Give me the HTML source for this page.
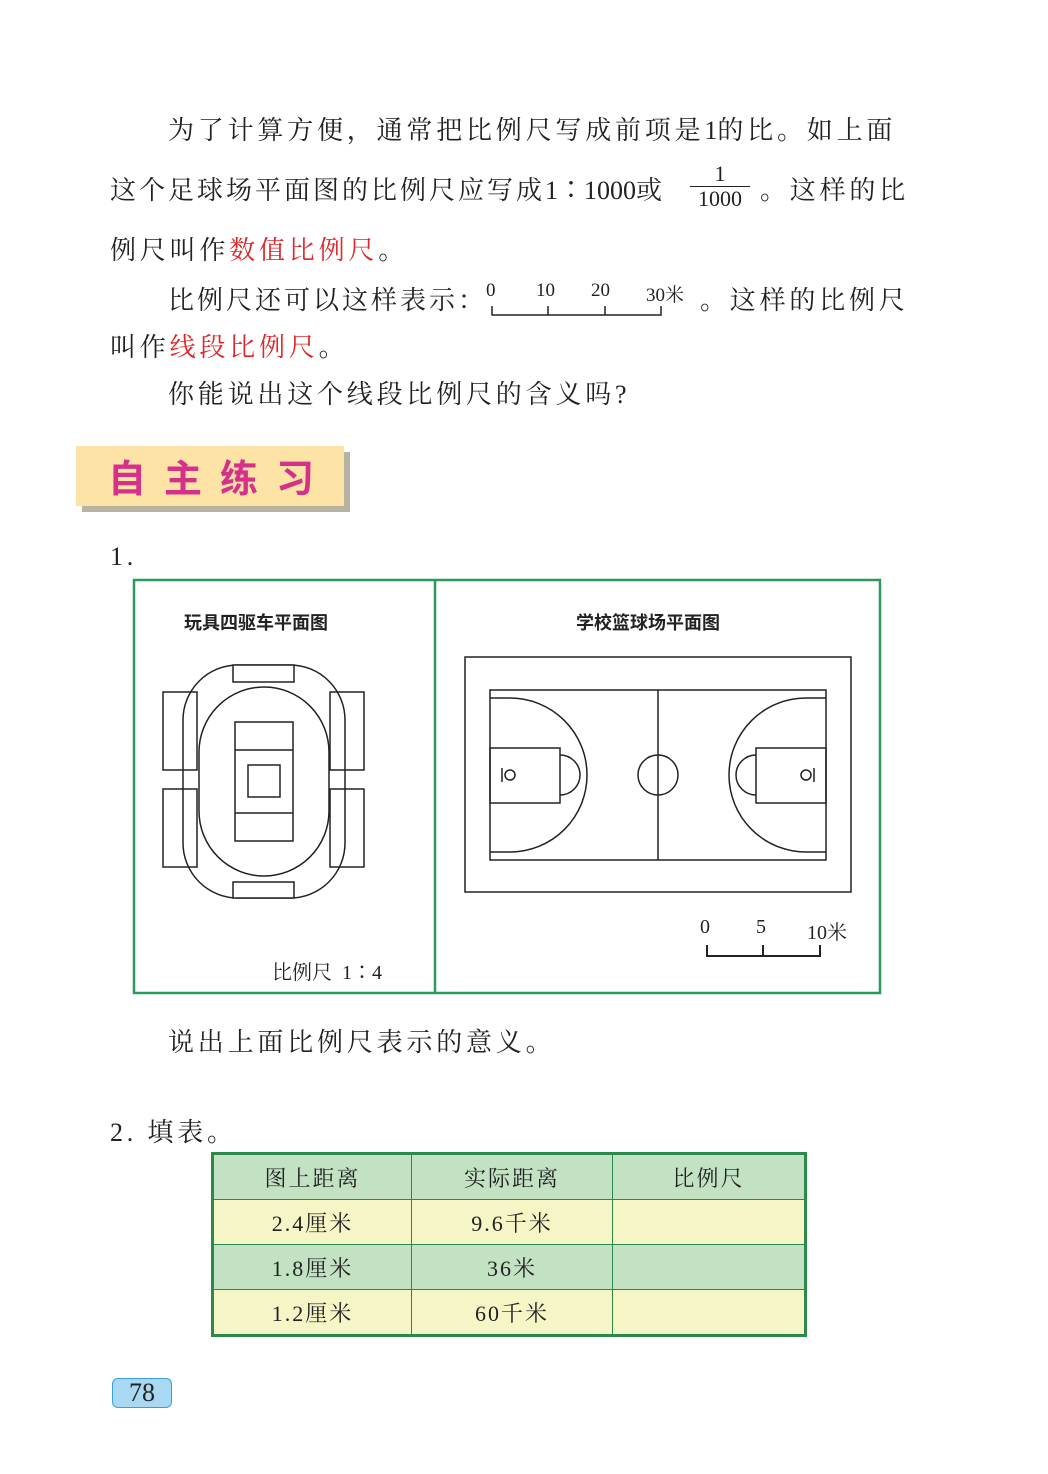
<!DOCTYPE html>
<html><head><meta charset="utf-8"><style>
body{margin:0;width:1048px;height:1474px;background:#fff;position:relative;overflow:hidden;font-family:"Liberation Serif","Noto Serif CJK SC",serif;color:#222}
.t{position:absolute;font-size:26px;white-space:nowrap;letter-spacing:3.8px}
.r{color:#e0262a}
.n{letter-spacing:0}
.s{position:absolute;font-size:20px;font-family:"Liberation Serif","Noto Serif CJK SC",serif}
table{position:absolute;left:211px;top:1152px;width:596px;border-collapse:collapse;border:3px solid #2b8a4a;font-size:22px;letter-spacing:2px}
td{border:1.5px solid #2b8a4a;height:44px;text-align:center;padding:0}
.g td{background:#c3e2c4}.y td{background:#f6f5c6}
</style></head><body>
<div class="t" style="left:168px;top:110px">为了计算方便，通常把比例尺写成前项是<span class="n">1</span>的比。如上面</div>
<div class="t" style="left:110px;top:170px;letter-spacing:3px">这个足球场平面图的比例尺应写成<span class="n">1∶1000</span>或</div>
<div style="position:absolute;left:690px;top:162px;width:60px;text-align:center;font-size:22px;line-height:24px">1<div style="border-top:1.5px solid #222"></div>1000</div>
<div class="t" style="left:760px;top:170px">。这样的比</div>
<div class="t" style="left:110px;top:230px">例尺叫作<span class="r">数值比例尺</span>。</div>
<div class="t" style="left:168px;top:280px;letter-spacing:3px">比例尺还可以这样表示：</div>
<div class="s" style="left:486px;top:280px;font-size:19px">0</div>
<div class="s" style="left:536px;top:280px;font-size:19px">10</div>
<div class="s" style="left:591px;top:280px;font-size:19px">20</div>
<div class="s" style="left:646px;top:280px;font-size:19px">30米</div>
<svg style="position:absolute;left:0;top:0" width="1048" height="1474">
<path d="M492 306V315H661V306M548 306V315M605 306V315" fill="none" stroke="#222" stroke-width="1.5"/>
</svg>
<div class="t" style="left:700px;top:280px">。这样的比例尺</div>
<div class="t" style="left:110px;top:327px">叫作<span class="r">线段比例尺</span>。</div>
<div class="t" style="left:168px;top:374px">你能说出这个线段比例尺的含义吗?</div>
<div style="position:absolute;left:82px;top:452px;width:268px;height:60px;background:#b7b3a0"></div>
<div style="position:absolute;left:76px;top:446px;width:268px;height:60px;background:#fde3a6;color:#d6318a;font-size:38px;font-weight:bold;font-family:'Noto Sans CJK SC',sans-serif;letter-spacing:18px;line-height:60px;padding-left:32px;box-sizing:border-box">自主练习</div>
<div class="t" style="left:110px;top:542px">1.</div>
<svg style="position:absolute;left:0;top:0" width="1048" height="1474" fill="none" stroke="#222" stroke-width="1.5">
<rect x="134" y="580" width="746" height="413" stroke="#2b9a5a" stroke-width="2.5"/>
<line x1="435" y1="580" x2="435" y2="993" stroke="#2b9a5a" stroke-width="2.5"/>
<rect x="183" y="665" width="162" height="233" rx="55"/>
<rect x="199" y="687" width="130" height="189" rx="65"/>
<rect x="233" y="665" width="61" height="17" fill="#fff"/>
<rect x="233" y="882" width="61" height="16" fill="#fff"/>
<rect x="163" y="692" width="34" height="78"/><rect x="163" y="789" width="34" height="78"/>
<rect x="330" y="692" width="34" height="78"/><rect x="330" y="789" width="34" height="78"/>
<rect x="235" y="722" width="58" height="119"/>
<line x1="235" y1="750" x2="293" y2="750"/><line x1="235" y1="813" x2="293" y2="813"/>
<rect x="248" y="765" width="32" height="32"/>
<rect x="465" y="657" width="386" height="235"/>
<rect x="490" y="690" width="336" height="170"/>
<line x1="658" y1="690" x2="658" y2="860"/>
<circle cx="658" cy="775" r="20"/>
<rect x="490" y="748" width="70" height="55"/>
<path d="M560 755A20 20 0 0 1 560 795"/>
<path d="M490 698H510A77 77 0 0 1 510 852H490"/>
<circle cx="510" cy="775" r="5"/><line x1="502" y1="768" x2="502" y2="782"/>
<rect x="756" y="748" width="70" height="55"/>
<path d="M756 755A20 20 0 0 0 756 795"/>
<path d="M826 698H806A77 77 0 0 0 806 852H826"/>
<circle cx="806" cy="775" r="5"/><line x1="814" y1="768" x2="814" y2="782"/>
<path d="M707 945V956H820V945M763 945V956" stroke-width="2"/>
</svg>
<div style="position:absolute;left:184px;top:609px;font-size:18px;font-weight:bold;font-family:'Noto Sans CJK SC',sans-serif">玩具四驱车平面图</div>
<div style="position:absolute;left:576px;top:609px;font-size:18px;font-weight:bold;font-family:'Noto Sans CJK SC',sans-serif">学校篮球场平面图</div>
<div class="s" style="left:272px;top:956px">比例尺&nbsp; 1∶4</div>
<div class="s" style="left:700px;top:916px">0</div>
<div class="s" style="left:756px;top:916px">5</div>
<div class="s" style="left:807px;top:916px">10米</div>
<div class="t" style="left:168px;top:1022px">说出上面比例尺表示的意义。</div>
<div class="t" style="left:110px;top:1112px">2. 填表。</div>
<table>
<tr class="g"><td style="width:197px">图上距离</td><td style="width:200px">实际距离</td><td>比例尺</td></tr>
<tr class="y"><td>2.4厘米</td><td>9.6千米</td><td></td></tr>
<tr class="g"><td>1.8厘米</td><td>36米</td><td></td></tr>
<tr class="y"><td>1.2厘米</td><td>60千米</td><td></td></tr>
</table>
<div style="position:absolute;left:112px;top:1378px;width:58px;height:28px;background:#a9d8f3;border:1.5px solid #3a9fd8;border-radius:6px;font-size:26px;line-height:28px;text-align:center">78</div>
</body></html>
